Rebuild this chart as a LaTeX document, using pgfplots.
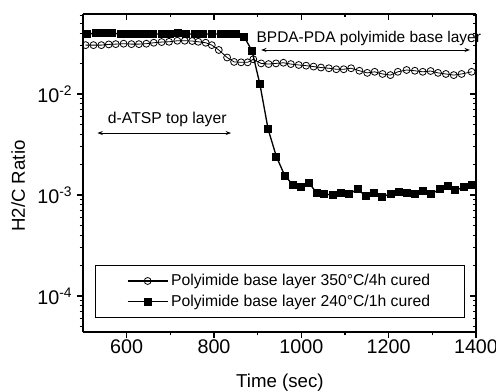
\documentclass[border=0pt]{standalone}
\usepackage{fontspec}
\setmainfont{Liberation Sans}
\usepackage{pgfplots}
\usepackage{pgfplotstable}
\pgfplotsset{compat=1.18}
\usetikzlibrary{arrows.meta}

\pgfplotstableread{
t r
510 0.0393
529 0.0400
548 0.0400
567 0.0400
588 0.0393
606 0.0393
624 0.0393
643 0.0393
660 0.0393
680 0.0393
700 0.0393
718 0.0405
737 0.0393
756 0.0393
775 0.0393
796 0.0393
815 0.0393
833 0.0393
850 0.0390
869 0.0369
887 0.0268
905 0.0126
924 0.00447
943 0.00239
962 0.00156
980 0.00127
999 0.00120
1018 0.00131
1035 0.00105
1053 0.00102
1072 0.00100
1091 0.00105
1110 0.00103
1129 0.00114
1147 0.00098
1166 0.00104
1185 0.00096
1205 0.00103
1224 0.00106
1242 0.00104
1261 0.00102
1279 0.00110
1298 0.00103
1317 0.00114
1335 0.00124
1353 0.00112
1372 0.00119
1390 0.00126
}\sqdata

\pgfplotstableread{
t r
506 0.0305
524 0.0305
542 0.0305
559 0.0310
575 0.0312
593 0.0315
611 0.0312
628 0.0312
645 0.0315
662 0.0322
680 0.0327
697 0.0329
716 0.0337
733 0.0337
750 0.0335
764 0.0329
781 0.0322
795 0.0305
811 0.0273
830 0.0230
846 0.0208
862 0.0206
877 0.0206
890 0.0221
908 0.0201
925 0.0198
942 0.0201
959 0.0204
976 0.0198
994 0.0194
1011 0.0191
1028 0.0187
1045 0.0183
1063 0.0180
1080 0.0176
1097 0.0176
1114 0.0180
1133 0.0170
1151 0.0162
1168 0.0166
1186 0.0158
1204 0.0154
1221 0.0166
1241 0.0173
1260 0.0170
1278 0.0166
1296 0.0169
1313 0.0162
1331 0.0158
1349 0.0154
1367 0.0158
1390 0.0166
}\circdata

\pgfplotsset{/pgfplots/mycommon/.style={
  scale only axis, width=294.75pt, height=238.5pt,
  at={(0,0)}, anchor=south west,
  xmin=500, xmax=1400, ymin=4.4e-5, ymax=0.062,
  xtick={600,800,1000,1200,1400}, minor x tick num=1,
  ytick={1e-4,1e-3,1e-2},
  minor ytick={5e-5,6e-5,7e-5,8e-5,9e-5,2e-4,3e-4,4e-4,5e-4,6e-4,7e-4,8e-4,9e-4,2e-3,3e-3,4e-3,5e-3,6e-3,7e-3,8e-3,9e-3,2e-2,3e-2,4e-2,5e-2,6e-2},
  major tick length=4.5pt, minor tick length=2.5pt,
  every tick/.style={line width=0.8pt, black},
  axis line style={line width=1pt, black},
}}

\begin{document}
\begin{tikzpicture}
\begin{axis}[ymode=log, mycommon,
  axis x line*=top, axis y line*=right, tick align=inside,
  xticklabels={}, yticklabels={}]
\end{axis}
\begin{axis}[ymode=log, mycommon,
  axis x line*=bottom, axis y line*=left, tick align=outside,
  clip=false,
  xticklabels={600,800,1000,1200,1400},
  yticklabels={10\textsuperscript{-4},10\textsuperscript{-3},10\textsuperscript{-2}},
  ticklabel style={font=\fontsize{14.8}{16}\selectfont},
  xticklabel style={yshift=2pt},
  xlabel={Time (sec)}, ylabel={H2/C Ratio},
  label style={font=\fontsize{14}{16}\selectfont},
  xlabel style={at={(axis description cs:0.501,-0.16)}, anchor=center},
  ylabel style={at={(axis description cs:-0.165,0.459)}, anchor=center},
  legend cell align=left,
  legend image code/.code={\draw[mark repeat=2,mark phase=2] plot coordinates {(0pt,0pt) (15pt,0pt) (30pt,0pt)};},
  legend style={at={(0.972,0.044)}, anchor=south east, draw=black, thin,
    font=\fontsize{11.8}{13.8}\selectfont, inner xsep=24pt, inner ysep=6pt, row sep=3.5pt,
    nodes={inner ysep=1pt}},
]
\addplot[black, line width=0.6pt, mark=o, mark size=2.6pt, mark options={fill=white, line width=0.6pt}, legend image post style={line width=1pt}] table[x=t,y=r] {\circdata};
\addlegendentry{Polyimide base layer 350°C/4h cured}
\addplot[black, line width=1pt, mark=square*, mark size=2.5pt] table[x=t,y=r] {\sqdata};
\addlegendentry{Polyimide base layer 240°C/1h cured}
\draw[{Stealth[length=4pt,width=3pt]}-{Stealth[length=4pt,width=3pt]}, line width=0.6pt] (axis cs:533,0.00411) -- (axis cs:839,0.00411);
\node[font=\fontsize{11.8}{14}\selectfont, anchor=base, inner sep=0pt] at (axis cs:693,0.00516) {d-ATSP top layer};
\draw[{Stealth[length=4pt,width=3pt]}-{Stealth[length=4pt,width=3pt]}, line width=0.6pt] (axis cs:908,0.0273) -- (axis cs:1386,0.0273);
\node[font=\fontsize{11.6}{14}\selectfont, anchor=base west, inner sep=0pt] at (axis cs:897,0.0322) {BPDA-PDA polyimide base layer};
\end{axis}
\pgfresetboundingbox
\path (-62.25pt,-43.5pt) rectangle (309.75pt,249pt);
\end{tikzpicture}
\end{document}
